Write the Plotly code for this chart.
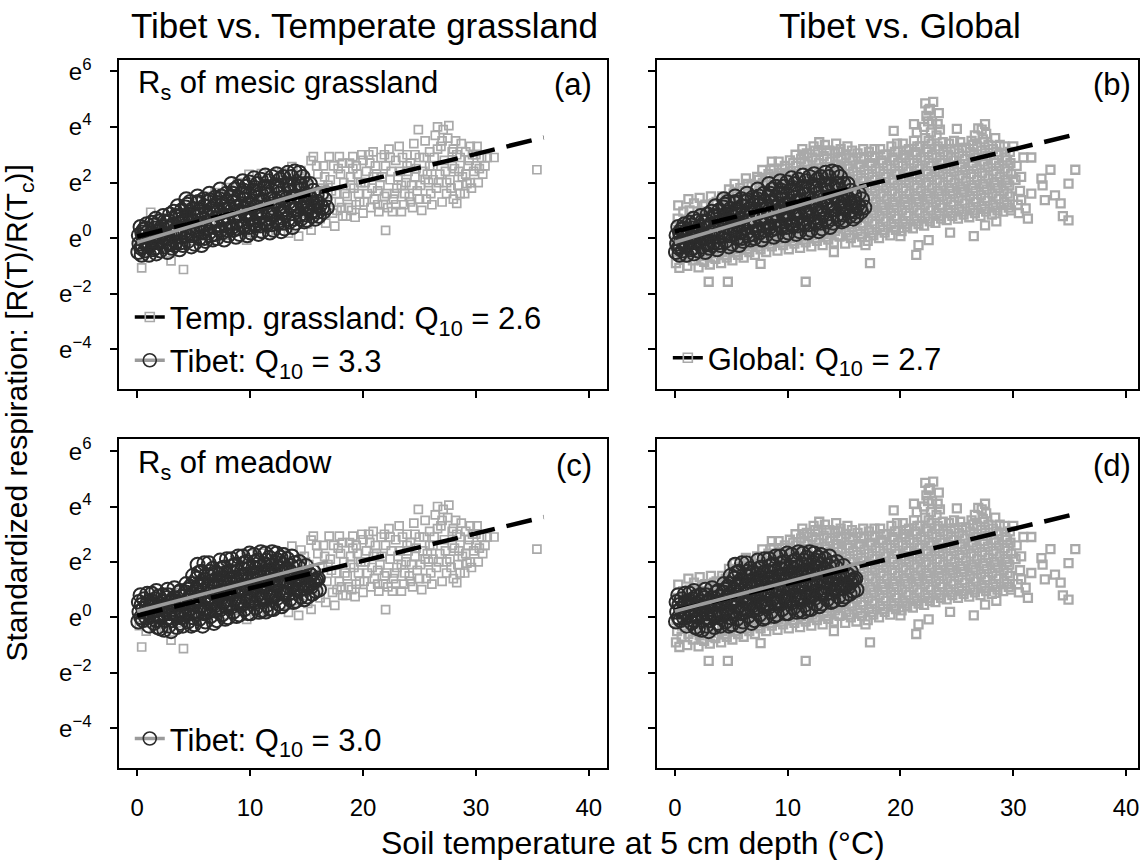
import plotly.graph_objects as go

# ---------------- data ----------------
x_ticks = [0, 10, 20, 30, 40]
x_tick_text = ["0", "10", "20", "30", "40"]
y_ticks = [-4, -2, 0, 2, 4, 6]
y_tick_text = ["e<sup>\u22124</sup>", "e<sup>\u22122</sup>", "e<sup>0</sup>",
               "e<sup>2</sup>", "e<sup>4</sup>", "e<sup>6</sup>"]

temp_grass_pts = [
 (0.4,-1.07),(3.0,-0.82),(4.1,-1.13),
 (0.2,-0.3),(0.5,0.2),(0.8,-0.5),(1.2,0.93),(1.0,0.4),(1.5,-0.1),(2.1,0.71),(1.8,0.3),(2.4,-0.35),
 (2.8,0.1),(3.2,0.55),(3.5,-0.2),(3.8,0.9),(4.3,0.3),(4.6,1.1),(4.9,-0.1),(5.2,0.6),
 (5.5,1.3),(5.8,0.1),(6.1,0.85),(6.4,1.5),(6.6,0.3),(6.9,1.64),(7.2,0.6),(7.5,1.2),(7.9,1.82),(7.7,0.1),(8.2,0.9),(8.5,0.25),(8.7,1.5),
 (8.9,2.0),(9.2,0.6),(9.5,1.2),(9.7,-0.07),(9.9,2.29),(10.1,0.4),(10.4,1.7),(10.6,0.9),(10.8,0.18),(11.0,2.32),(11.2,1.3),(11.5,0.5),
 (11.8,1.9),(12.0,0.8),(12.3,0.29),(12.5,1.5),(12.8,2.36),(13.0,1.1),(13.4,0.18),(13.6,1.8),(13.7,2.57),(13.9,0.6),(14.3,0.07),(14.4,1.3),(14.5,2.43),(14.7,0.9),(14.9,2.0),
 (15.1,0.5),(15.4,0.29),(15.4,2.79),(15.6,2.93),(15.5,1.5),(15.8,1.0),(16.0,2.3),(16.2,0.7),(16.5,2.6),(16.4,1.8),(16.7,0.54),(16.8,1.3),(17.0,2.93),(17.1,2.1),(17.3,0.9),(17.5,0.43),(17.6,1.6),(17.8,2.5),
 (17.9,2.93),(18.1,1.1),(18.2,0.79),(18.3,2.0),(18.5,0.79),(18.6,1.5),(18.8,2.7),(19.0,1.0),(19.1,2.93),(19.3,0.75),(19.2,1.8),(19.5,2.3),(19.7,1.3),(19.9,3.0),(20.0,0.9),(20.2,2.0),(20.4,1.6),(20.6,2.7),(20.7,1.1),
 (20.9,3.1),(21.0,1.4),(21.2,2.3),(21.4,0.95),(21.5,1.9),(21.6,2.9),(21.8,1.2),(22.0,0.28),(22.0,2.6),(22.1,1.6),(22.3,3.2),(22.4,2.1),(22.6,0.95),(22.7,1.4),(22.9,2.8),(23.0,1.8),(23.2,3.3),(23.4,0.95),(23.3,2.4),(23.6,1.2),
 (23.8,2.0),(23.9,3.0),(24.1,1.5),(24.2,2.7),(24.4,1.1),(24.5,3.4),(24.6,2.2),(24.9,3.9),(24.8,1.7),(25.0,2.9),(25.2,1.0),(25.3,2.4),(25.5,3.5),(25.6,1.4),(25.8,2.0),(25.9,3.1),(26.1,1.2),(26.2,2.6),(26.4,3.7),(26.5,1.8),(26.6,4.0),
 (26.8,2.3),(26.9,3.3),(27.0,1.3),(27.1,3.9),(27.2,2.8),(27.4,1.6),(27.5,3.6),(27.6,4.05),(27.7,2.1),(27.9,3.1),(28.0,1.4),(28.1,2.5),(28.3,1.25),(28.2,3.5),(28.4,1.9),(28.6,2.9),
 (28.7,3.4),(28.8,2.2),(29.0,1.6),(29.1,3.1),(29.2,1.96),(29.3,2.6),(29.5,3.3),(29.6,1.8),(29.8,2.4),(30.0,2.6),(30.1,3.3),(30.2,2.0),(30.5,2.9),(30.6,2.3),(31.0,2.9),(31.6,2.9),(35.4,2.46),
 (14.2,1.7),(14.8,2.2),(15.2,1.9),(15.9,2.6),(16.1,1.4),(16.6,2.2),(17.2,1.7),(17.4,2.6),(17.9,1.3),(18.0,2.3),(18.4,1.6),(18.9,2.2),(19.4,2.6),(19.6,1.6),(19.8,2.0),(20.1,1.3),(20.3,2.4),(20.5,3.0),(20.8,1.8),(21.1,2.6),(21.3,1.7),(21.7,2.2),(21.9,3.0),(22.2,1.1),(22.5,2.4),(22.8,1.6),(23.1,2.2),(23.5,2.9),(23.7,1.6),(24.0,2.4),(24.3,1.9),(24.7,2.5),(25.1,1.9),(25.4,2.9),(25.7,2.3),(26.0,1.6),(26.3,2.9),(26.7,2.0),(27.3,2.4),(27.8,1.8),(28.0,3.2),(28.5,2.4),(29.4,2.8),(29.7,3.0),(30.3,2.5),(30.8,2.6),
 (17.7,1.0),(18.7,1.1),(18.9,1.9),(19.4,1.2),(20.0,2.8),(20.9,2.2),(21.3,1.2),(21.9,1.5),(22.4,2.9),(22.9,1.2),(23.4,1.9),(23.9,2.6),(24.2,1.3),(24.6,3.0),(25.0,1.4),(25.5,2.1),(25.9,2.6),(26.2,2.1),(26.6,3.2),(27.0,3.5),(27.4,2.0),(27.9,2.6),(28.3,3.0),(28.6,1.6),(29.1,2.3),(29.5,2.0),(30.0,3.0),(16.9,1.9),(18.2,2.7),(19.1,2.5),
]

global_pts = [
 (0.1,-0.9),(0.2,-0.5),(0.15,-0.1),(0.3,0.3),(0.25,0.7),(0.3,1.18),(0.4,-1.07),(0.6,-0.7),(0.65,-0.3),(0.7,0.1),(0.8,0.5),(0.75,0.95),
 (1.1,-1.0),(1.2,-0.6),(1.15,-0.2),(1.3,0.2),(1.25,0.6),(1.3,1.0),(1.2,1.4),(1.6,-0.8),(1.7,-0.4),(1.65,0.0),(1.8,0.4),(1.75,0.8),(1.7,1.25),
 (2.1,-1.05),(2.2,-0.65),(2.15,-0.25),(2.3,0.15),(2.25,0.55),(2.3,0.95),(2.2,1.45),(2.6,-0.85),(2.7,-0.45),(2.65,-0.05),(2.8,0.35),(2.75,0.75),(2.7,1.2),
 (3.0,-1.57),(3.1,-0.95),(3.2,-0.55),(3.15,-0.15),(3.3,0.25),(3.25,0.65),(3.3,1.05),(3.2,1.5),(3.6,-0.75),(3.7,-0.35),(3.65,0.05),(3.8,0.45),(3.75,0.85),(3.7,1.3),
 (4.1,-0.9),(4.2,-0.5),(4.15,-0.1),(4.3,0.3),(4.25,0.7),(4.3,1.1),(4.2,1.5),(4.7,-1.57),(4.6,-0.7),(4.7,-0.3),(4.65,0.1),(4.8,0.5),(4.75,0.9),(4.7,1.3),(4.8,1.75),
 (5.1,-0.8),(5.2,-0.4),(5.15,0.0),(5.3,0.4),(5.25,0.8),(5.3,1.2),(5.2,1.6),(5.3,1.95),(5.6,-0.6),(5.7,-0.2),(5.65,0.2),(5.8,0.6),(5.75,1.0),(5.7,1.4),(5.8,1.8),
 (6.1,-0.7),(6.2,-0.3),(6.15,0.1),(6.3,0.5),(6.25,0.9),(6.3,1.3),(6.2,1.7),(6.3,2.15),(6.6,-0.5),(6.7,-0.1),(6.65,0.3),(6.8,0.7),(6.75,1.1),(6.7,1.5),(6.8,1.9),
 (7.1,-0.6),(7.2,-0.2),(7.15,0.2),(7.3,0.6),(7.25,1.0),(7.3,1.4),(7.2,1.8),(7.3,2.2),(7.6,-0.93),(7.6,-0.4),(7.7,0.0),(7.65,0.4),(7.8,0.8),(7.75,1.2),(7.7,1.6),(7.8,2.0),(7.75,2.45),
 (8.1,-0.5),(8.2,-0.1),(8.15,0.3),(8.3,0.7),(8.25,1.1),(8.3,1.5),(8.2,1.9),(8.3,2.3),(8.6,2.75),(8.6,-0.3),(8.7,0.1),(8.65,0.5),(8.8,0.9),(8.75,1.3),(8.7,1.7),(8.8,2.1),(8.75,2.5),
 (9.1,-0.45),(9.2,-0.05),(9.15,0.35),(9.3,0.75),(9.25,1.15),(9.3,1.55),(9.2,1.95),(9.3,2.35),(9.2,2.75),(9.6,-0.25),(9.7,0.15),(9.65,0.55),(9.8,0.95),(9.75,1.35),(9.7,1.75),(9.8,2.15),(9.75,2.6),
 (10.1,-0.4),(10.2,0.0),(10.15,0.4),(10.3,0.8),(10.25,1.2),(10.3,1.6),(10.2,2.0),(10.3,2.4),(10.2,2.8),(10.6,-0.2),(10.7,0.2),(10.65,0.6),(10.8,1.0),(10.75,1.4),(10.7,1.8),(10.8,2.2),(10.75,2.6),(10.7,3.0),
 (11.1,-0.35),(11.2,0.05),(11.15,0.45),(11.3,0.85),(11.25,1.25),(11.3,1.65),(11.2,2.05),(11.3,2.45),(11.2,2.85),(11.3,3.2),(11.6,-1.57),(11.6,-0.15),(11.7,0.25),(11.65,0.65),(11.8,1.05),(11.75,1.45),(11.7,1.85),(11.8,2.25),(11.75,2.65),(11.7,3.05),
 (12.1,-0.3),(12.2,0.1),(12.15,0.5),(12.3,0.9),(12.25,1.3),(12.3,1.7),(12.2,2.1),(12.3,2.5),(12.2,2.9),(12.3,3.3),(12.6,-0.1),(12.7,0.3),(12.65,0.7),(12.8,1.1),(12.75,1.5),(12.7,1.9),(12.8,2.3),(12.75,2.7),(12.7,3.1),(12.8,3.45),
 (13.1,-0.25),(13.2,0.15),(13.15,0.55),(13.3,0.95),(13.25,1.35),(13.3,1.75),(13.2,2.15),(13.3,2.55),(13.2,2.95),(13.3,3.35),(13.6,-0.05),(13.7,0.35),(13.65,0.75),(13.8,1.15),(13.75,1.55),(13.7,1.95),(13.8,2.35),(13.75,2.75),(13.7,3.15),
 (14.1,-0.5),(14.1,-0.15),(14.2,0.25),(14.15,0.65),(14.3,1.05),(14.25,1.45),(14.3,1.85),(14.2,2.25),(14.3,2.65),(14.2,3.05),(14.3,3.4),(14.6,0.05),(14.7,0.45),(14.65,0.85),(14.8,1.25),(14.75,1.65),(14.7,2.05),(14.8,2.45),(14.75,2.85),(14.7,3.2),
 (15.1,-0.2),(15.2,0.2),(15.15,0.6),(15.3,1.0),(15.25,1.4),(15.3,1.8),(15.2,2.2),(15.3,2.6),(15.2,3.0),(15.3,3.3),(15.6,0.0),(15.7,0.4),(15.65,0.8),(15.8,1.2),(15.75,1.6),(15.7,2.0),(15.8,2.4),(15.75,2.8),(15.7,3.15),
 (16.1,-0.15),(16.2,0.25),(16.15,0.65),(16.3,1.05),(16.25,1.45),(16.3,1.85),(16.2,2.25),(16.3,2.65),(16.2,3.05),(16.6,0.05),(16.7,0.45),(16.65,0.85),(16.8,1.25),(16.75,1.65),(16.7,2.05),(16.8,2.45),(16.75,2.85),(16.7,3.2),(16.9,-0.25),
 (17.1,-0.1),(17.3,-0.9),(17.2,0.3),(17.15,0.7),(17.3,1.1),(17.25,1.5),(17.3,1.9),(17.2,2.3),(17.3,2.7),(17.2,3.1),(17.6,0.1),(17.7,0.5),(17.65,0.9),(17.8,1.3),(17.75,1.7),(17.7,2.1),(17.8,2.5),(17.75,2.9),(17.7,3.2),
 (18.1,0.0),(18.2,0.4),(18.15,0.8),(18.3,1.2),(18.25,1.6),(18.3,2.0),(18.2,2.4),(18.3,2.8),(18.2,3.2),(18.6,0.2),(18.7,0.6),(18.65,1.0),(18.8,1.4),(18.75,1.8),(18.7,2.2),(18.8,2.6),(18.75,3.0),
 (19.1,0.1),(19.2,0.5),(19.15,0.9),(19.3,1.3),(19.25,1.7),(19.3,2.1),(19.2,2.5),(19.3,2.9),(19.2,3.3),(19.4,3.86),(19.6,0.3),(19.7,0.7),(19.65,1.1),(19.8,1.5),(19.75,1.9),(19.7,2.3),(19.8,2.7),(19.75,3.1),(19.7,3.4),
 (20.0,0.07),(20.1,0.25),(20.2,0.6),(20.15,1.0),(20.3,1.4),(20.25,1.8),(20.3,2.2),(20.2,2.6),(20.3,3.0),(20.2,3.4),(20.6,0.4),(20.7,0.8),(20.65,1.2),(20.8,1.6),(20.75,2.0),(20.7,2.4),(20.8,2.8),(20.75,3.2),
 (21.1,0.35),(21.2,0.7),(21.15,1.1),(21.3,1.5),(21.25,1.9),(21.3,2.3),(21.2,2.7),(21.3,3.1),(21.2,3.5),(21.2,4.1),(21.4,-0.6),(21.6,-0.25),(21.6,0.5),(21.7,0.9),(21.65,1.3),(21.8,1.7),(21.75,2.1),(21.7,2.5),(21.8,2.9),(21.75,3.3),
 (22.1,0.45),(22.2,0.8),(22.15,1.2),(22.3,1.6),(22.25,2.0),(22.3,2.4),(22.2,2.8),(22.3,3.2),(22.2,3.6),(22.1,4.0),(22.3,4.4),(22.2,4.85),(22.5,-0.07),(22.6,0.6),(22.7,1.0),(22.65,1.4),(22.8,1.8),(22.75,2.2),(22.7,2.6),(22.8,3.0),(22.75,3.4),(22.7,3.8),(22.8,4.2),(22.6,4.65),(22.9,4.9),
 (23.1,0.55),(23.2,0.9),(23.15,1.3),(23.3,1.7),(23.25,2.1),(23.3,2.5),(23.2,2.9),(23.3,3.3),(23.2,3.7),(23.3,4.1),(23.4,4.5),(23.6,0.7),(23.7,1.1),(23.65,1.5),(23.8,1.9),(23.75,2.3),(23.7,2.7),(23.8,3.1),(23.75,3.45),
 (24.1,0.65),(24.4,0.2),(24.2,1.0),(24.15,1.4),(24.3,1.8),(24.25,2.2),(24.3,2.6),(24.2,3.0),(24.3,3.4),(24.6,0.8),(24.7,1.2),(24.65,1.6),(24.8,2.0),(24.75,2.4),(24.7,2.8),(24.8,3.2),(24.75,3.5),
 (25.1,0.7),(25.2,1.05),(25.15,1.45),(25.3,1.85),(25.25,2.25),(25.3,2.65),(25.2,3.05),(25.3,3.45),(25.0,3.93),(25.6,0.85),(25.7,1.25),(25.65,1.65),(25.8,2.05),(25.75,2.45),(25.7,2.85),(25.8,3.25),
 (26.1,0.75),(26.2,1.1),(26.15,1.5),(26.3,1.9),(26.25,2.3),(26.3,2.7),(26.2,3.1),(26.3,3.5),(26.5,0.07),(26.6,0.9),(26.7,1.3),(26.65,1.7),(26.8,2.1),(26.75,2.5),(26.7,2.9),(26.8,3.3),(26.6,3.7),(26.9,3.95),
 (27.1,0.8),(27.2,1.15),(27.15,1.55),(27.3,1.95),(27.25,2.35),(27.3,2.75),(27.2,3.15),(27.3,3.55),(27.2,3.9),(27.5,0.46),(27.6,0.95),(27.7,1.35),(27.65,1.75),(27.8,2.15),(27.75,2.55),(27.7,2.95),(27.8,3.35),(27.6,3.75),(27.5,4.1),
 (28.1,0.85),(28.5,0.6),(28.2,1.2),(28.15,1.6),(28.3,2.0),(28.25,2.4),(28.3,2.8),(28.2,3.2),(28.4,3.6),(28.6,1.0),(28.7,1.4),(28.65,1.8),(28.8,2.2),(28.75,2.6),(28.7,3.0),(28.8,3.35),
 (29.1,0.95),(29.2,1.3),(29.15,1.7),(29.3,2.1),(29.25,2.5),(29.3,2.9),(29.2,3.3),(29.6,1.1),(29.8,1.0),(29.7,1.5),(29.65,1.9),(29.8,2.3),(29.75,2.7),(29.7,3.1),
 (30.0,3.3),(30.2,2.1),(30.4,1.2),(30.6,1.7),(30.7,1.37),(30.7,2.2),(30.9,2.9),(31.1,1.07),(31.3,0.7),(31.6,1.6),(31.6,2.9),(30.3,2.6),(30.5,0.9),
 (32.5,2.14),(32.6,1.9),(32.8,1.37),(33.3,2.46),(33.7,1.54),(34.2,1.25),(34.4,0.79),(34.9,0.64),(34.9,1.96),(35.5,2.46),
 # denser core of the global cloud
 (2.45,-0.8),(2.5,-0.4),(2.45,0.0),(2.5,0.4),(2.45,0.8),(2.5,1.15),
 (3.45,-0.7),(3.5,-0.3),(3.45,0.1),(3.5,0.5),(3.45,0.9),(3.5,1.25),
 (4.45,-0.6),(4.5,-0.2),(4.45,0.2),(4.5,0.6),(4.45,1.0),(4.5,1.4),
 (5.45,-0.5),(5.5,-0.1),(5.45,0.3),(5.5,0.7),(5.45,1.1),(5.5,1.5),
 (6.45,-0.4),(6.5,0.0),(6.45,0.4),(6.5,0.8),(6.45,1.2),(6.5,1.6),(6.45,1.95),
 (7.45,-0.3),(7.5,0.1),(7.45,0.5),(7.5,0.9),(7.45,1.3),(7.5,1.7),(7.45,2.1),
 (8.45,-0.2),(8.5,0.2),(8.45,0.6),(8.5,1.0),(8.45,1.4),(8.5,1.8),(8.45,2.2),(8.5,2.45),
 (9.45,-0.15),(9.5,0.25),(9.45,0.65),(9.5,1.05),(9.45,1.45),(9.5,1.85),(9.45,2.25),(9.5,2.5),
 (10.45,-0.1),(10.5,0.3),(10.45,0.7),(10.5,1.1),(10.45,1.5),(10.5,1.9),(10.45,2.3),(10.5,2.7),
 (11.45,-0.05),(11.5,0.35),(11.45,0.75),(11.5,1.15),(11.45,1.55),(11.5,1.95),(11.45,2.35),(11.5,2.75),(11.45,3.0),
 (12.45,0.0),(12.5,0.4),(12.45,0.8),(12.5,1.2),(12.45,1.6),(12.5,2.0),(12.45,2.4),(12.5,2.8),(12.45,3.15),
 (13.45,0.05),(13.5,0.45),(13.45,0.85),(13.5,1.25),(13.45,1.65),(13.5,2.05),(13.45,2.45),(13.5,2.85),(13.45,3.15),
 (14.45,0.1),(14.5,0.5),(14.45,0.9),(14.5,1.3),(14.45,1.7),(14.5,2.1),(14.45,2.5),(14.5,2.9),(14.45,3.1),
 (15.45,0.1),(15.5,0.5),(15.45,0.9),(15.5,1.3),(15.45,1.7),(15.5,2.1),(15.45,2.5),(15.5,2.9),
 (16.45,0.15),(16.5,0.55),(16.45,0.95),(16.5,1.35),(16.45,1.75),(16.5,2.15),(16.45,2.55),(16.5,2.9),
 (17.45,0.2),(17.5,0.6),(17.45,1.0),(17.5,1.4),(17.45,1.8),(17.5,2.2),(17.45,2.6),(17.5,2.95),
 (18.45,0.3),(18.5,0.7),(18.45,1.1),(18.5,1.5),(18.45,1.9),(18.5,2.3),(18.45,2.7),(18.5,3.0),
 (19.45,0.4),(19.5,0.8),(19.45,1.2),(19.5,1.6),(19.45,2.0),(19.5,2.4),(19.45,2.8),(19.5,3.1),
 (20.45,0.5),(20.5,0.9),(20.45,1.3),(20.5,1.7),(20.45,2.1),(20.5,2.5),(20.45,2.9),(20.5,3.15),
 (21.45,0.6),(21.5,1.0),(21.45,1.4),(21.5,1.8),(21.45,2.2),(21.5,2.6),(21.45,3.0),(21.5,3.3),(21.45,3.8),
 (22.45,0.7),(22.5,1.1),(22.45,1.5),(22.5,1.9),(22.45,2.3),(22.5,2.7),(22.45,3.1),(22.5,3.5),(22.45,4.2),(22.5,4.6),
 (23.45,0.8),(23.5,1.2),(23.45,1.6),(23.5,2.0),(23.45,2.4),(23.5,2.8),(23.45,3.2),(23.5,3.9),
 (24.45,0.9),(24.5,1.3),(24.45,1.7),(24.5,2.1),(24.45,2.5),(24.5,2.9),(24.45,3.2),
 (25.45,0.95),(25.5,1.35),(25.45,1.75),(25.5,2.15),(25.45,2.55),(25.5,2.95),(25.45,3.25),
 (26.45,1.0),(26.5,1.4),(26.45,1.8),(26.5,2.2),(26.45,2.6),(26.5,3.0),(26.45,3.35),
 (27.45,1.05),(27.5,1.45),(27.45,1.85),(27.5,2.25),(27.45,2.65),(27.5,3.05),(27.45,3.45),
 (28.45,1.1),(28.5,1.5),(28.45,1.9),(28.5,2.3),(28.45,2.7),(28.5,3.1),
 (29.45,1.2),(29.5,1.6),(29.45,2.0),(29.5,2.4),(29.45,2.8),
]

tibet_mesic_pts = [
 (0.1,-0.5),(0.2,-0.2),(0.15,0.1),(0.3,0.4),(0.4,-0.6),(0.5,-0.3),(0.55,0.05),(0.6,0.3),(0.7,-0.45),(0.8,-0.1),(0.85,0.5),(0.9,0.2),
 (1.05,-0.6),(1.1,-0.25),(1.2,0.15),(1.3,0.55),(1.4,-0.4),(1.5,0.0),(1.55,0.35),(1.65,0.7),(1.7,-0.55),(1.8,-0.15),(1.9,0.25),(1.95,0.6),
 (2.05,-0.45),(2.1,-0.05),(2.2,0.4),(2.3,0.8),(2.4,-0.3),(2.5,0.15),(2.6,0.55),(2.7,-0.5),(2.75,0.0),(2.85,0.35),(2.9,0.85),(2.95,-0.2),
 (3.05,-0.35),(3.1,0.1),(3.2,0.5),(3.25,0.95),(3.4,-0.15),(3.5,0.3),(3.55,0.75),(3.6,1.15),(3.75,-0.4),(3.8,0.05),(3.9,0.55),(3.95,1.0),
 (4.05,-0.25),(4.1,0.2),(4.2,0.65),(4.3,1.1),(4.35,1.4),(4.5,-0.1),(4.55,0.4),(4.6,0.85),(4.7,1.3),(4.8,-0.3),(4.85,0.1),(4.9,0.6),(4.95,1.05),
 (5.05,-0.2),(5.1,0.3),(5.2,0.75),(5.3,1.25),(5.35,1.5),(5.5,0.0),(5.55,0.5),(5.6,1.0),(5.7,-0.25),(5.8,0.2),(5.85,0.7),(5.9,1.4),(5.95,1.15),
 (6.05,-0.1),(6.1,0.35),(6.2,0.8),(6.3,1.3),(6.4,1.6),(6.5,0.1),(6.55,0.6),(6.6,1.05),(6.7,-0.05),(6.8,0.4),(6.85,0.9),(6.9,1.45),
 (7.05,0.0),(7.1,0.45),(7.2,0.95),(7.3,1.4),(7.35,1.75),(7.5,0.2),(7.55,0.7),(7.6,1.2),(7.7,-0.05),(7.8,0.5),(7.85,1.0),(7.9,1.6),
 (8.05,0.1),(8.1,0.55),(8.2,1.05),(8.3,1.5),(8.35,1.95),(8.5,0.3),(8.55,0.8),(8.6,1.3),(8.65,1.75),(8.75,0.05),(8.8,0.6),(8.85,1.1),(8.95,1.85),
 (9.05,0.15),(9.1,0.65),(9.2,1.15),(9.3,1.6),(9.35,2.05),(9.5,0.4),(9.55,0.9),(9.6,1.4),(9.65,1.85),(9.75,0.1),(9.8,0.7),(9.85,1.2),(9.95,2.0),
 (10.05,0.2),(10.1,0.7),(10.2,1.2),(10.3,1.7),(10.35,2.15),(10.5,0.45),(10.55,0.95),(10.6,1.45),(10.65,1.95),(10.75,0.15),(10.8,0.75),(10.85,1.3),(10.95,2.1),
 (11.05,0.25),(11.1,0.8),(11.2,1.3),(11.3,1.8),(11.35,2.25),(11.5,0.5),(11.55,1.0),(11.6,1.55),(11.65,2.05),(11.75,0.2),(11.8,0.85),(11.85,1.4),(11.95,2.2),
 (12.05,0.3),(12.1,0.85),(12.2,1.35),(12.3,1.85),(12.35,2.3),(12.5,0.55),(12.55,1.1),(12.6,1.6),(12.65,2.1),(12.75,0.25),(12.8,0.9),(12.85,1.45),(12.95,2.2),
 (13.05,0.35),(13.1,0.9),(13.2,1.4),(13.3,1.9),(13.35,2.35),(13.5,0.6),(13.55,1.15),(13.6,1.65),(13.65,2.2),(13.75,0.4),(13.8,1.0),(13.85,1.5),(13.95,2.4),
 (14.05,0.55),(14.1,1.05),(14.2,1.5),(14.3,1.95),(14.35,2.35),(14.5,0.7),(14.55,1.25),(14.6,1.75),(14.65,2.2),(14.8,0.6),(14.85,1.1),(14.9,1.6),
 (15.05,0.65),(15.1,1.1),(15.2,1.5),(15.3,1.95),(15.5,0.8),(15.55,1.25),(15.6,1.7),(15.8,0.7),(15.85,1.15),(15.9,1.55),
 (16.1,0.8),(16.2,1.2),(16.3,1.6),(16.5,0.95),(16.6,1.4),(16.8,1.1),
 # denser interior
 (0.35,-0.35),(0.45,0.2),(0.95,-0.3),(0.75,0.35),
 (1.35,-0.1),(1.45,0.45),(1.85,0.1),(1.6,-0.35),
 (2.35,0.05),(2.45,0.6),(2.8,-0.2),(2.85,0.6),
 (3.35,0.2),(3.45,0.8),(3.85,-0.15),(3.85,0.8),(3.3,-0.25),
 (4.4,0.1),(4.4,0.75),(4.45,1.2),(4.9,0.35),(4.95,0.85),
 (5.4,0.25),(5.45,0.85),(5.4,1.3),(5.95,0.0),(5.9,0.5),
 (6.35,0.2),(6.4,0.9),(6.45,1.35),(6.95,0.15),(6.95,0.7),(6.95,1.2),
 (7.4,0.3),(7.4,0.9),(7.45,1.5),(7.95,0.3),(7.95,0.8),(7.95,1.3),
 (8.4,0.4),(8.4,1.0),(8.45,1.6),(8.9,0.35),(8.95,0.9),(8.95,1.45),
 (9.4,0.45),(9.4,1.05),(9.45,1.7),(9.9,0.4),(9.95,0.95),(9.95,1.55),
 (10.4,0.5),(10.4,1.1),(10.45,1.8),(10.9,0.45),(10.95,1.0),(10.95,1.6),
 (11.4,0.55),(11.4,1.15),(11.45,1.85),(11.9,0.5),(11.95,1.1),(11.95,1.7),
 (12.4,0.6),(12.4,1.2),(12.45,1.9),(12.9,0.55),(12.95,1.15),(12.95,1.75),
 (13.4,0.7),(13.4,1.3),(13.45,1.95),(13.9,0.7),(13.95,1.25),(13.95,1.9),
 (14.4,0.85),(14.4,1.4),(14.45,1.95),(14.95,0.85),(14.95,1.35),(14.95,1.95),
 (15.4,0.95),(15.4,1.4),(15.7,1.0),(15.95,1.3),(16.4,1.1),(16.0,0.95),
]

tibet_meadow_pts = [
 (0.1,-0.15),(0.2,0.2),(0.15,0.55),(0.3,0.8),(0.5,-0.1),(0.55,0.3),(0.6,0.65),(0.8,0.0),(0.85,0.45),(0.9,0.85),
 (1.05,-0.3),(1.1,0.1),(1.2,0.45),(1.3,0.85),(1.5,-0.2),(1.55,0.25),(1.6,0.65),(1.7,0.95),(1.8,-0.35),(1.85,0.05),(1.95,0.5),
 (2.05,-0.4),(2.1,0.0),(2.2,0.4),(2.3,0.8),(2.4,-0.45),(2.5,-0.1),(2.55,0.3),(2.6,0.7),(2.7,1.0),(2.8,-0.3),(2.85,0.15),(2.95,0.55),
 (3.0,-0.5),(3.1,-0.1),(3.2,0.3),(3.25,0.7),(3.3,1.05),(3.5,-0.35),(3.55,0.05),(3.6,0.5),(3.7,0.9),(3.8,-0.2),(3.9,0.25),(3.95,0.75),
 (4.05,-0.3),(4.1,0.1),(4.2,0.5),(4.3,0.9),(4.35,1.2),(4.5,-0.15),(4.55,0.3),(4.6,0.7),(4.7,1.1),(4.8,-0.3),(4.85,0.15),(4.9,0.55),(4.95,1.5),
 (5.05,-0.25),(5.1,0.2),(5.2,0.6),(5.25,1.0),(5.3,1.4),(5.35,1.9),(5.5,-0.05),(5.55,0.4),(5.6,0.8),(5.65,1.2),(5.7,1.65),(5.8,-0.3),(5.85,0.15),(5.9,0.95),(5.95,1.95),
 (6.05,-0.15),(6.1,0.3),(6.2,0.7),(6.25,1.1),(6.3,1.5),(6.35,1.95),(6.5,0.05),(6.55,0.5),(6.6,0.9),(6.65,1.3),(6.7,1.75),(6.8,-0.2),(6.85,0.25),(6.9,1.05),(6.95,1.6),
 (7.05,-0.1),(7.1,0.35),(7.2,0.75),(7.25,1.15),(7.3,1.55),(7.35,2.05),(7.5,0.1),(7.55,0.55),(7.6,0.95),(7.65,1.4),(7.7,1.8),(7.8,-0.05),(7.85,0.4),(7.9,1.2),(7.95,2.1),
 (8.05,0.0),(8.1,0.45),(8.2,0.85),(8.25,1.25),(8.3,1.65),(8.35,2.1),(8.5,0.2),(8.55,0.65),(8.6,1.05),(8.65,1.45),(8.7,1.9),(8.8,0.05),(8.85,0.5),(8.9,1.3),(8.95,2.2),
 (9.05,0.1),(9.1,0.55),(9.2,0.95),(9.25,1.35),(9.3,1.75),(9.35,2.2),(9.5,0.3),(9.55,0.75),(9.6,1.15),(9.65,1.55),(9.7,2.0),(9.8,0.15),(9.85,0.6),(9.9,1.4),(9.95,2.3),
 (10.05,0.15),(10.1,0.6),(10.2,1.0),(10.25,1.4),(10.3,1.8),(10.35,2.25),(10.5,0.35),(10.55,0.8),(10.6,1.2),(10.65,1.6),(10.7,2.05),(10.8,0.2),(10.85,0.65),(10.9,1.45),(10.95,2.35),
 (11.05,0.25),(11.1,0.7),(11.2,1.1),(11.25,1.5),(11.3,1.9),(11.35,2.3),(11.4,0.21),(11.5,0.45),(11.55,0.9),(11.6,1.3),(11.65,1.7),(11.7,2.15),(11.8,0.3),(11.85,0.75),(11.9,1.55),(11.95,2.35),
 (12.05,0.3),(12.1,0.75),(12.2,1.15),(12.25,1.55),(12.3,1.95),(12.35,2.3),(12.5,0.5),(12.55,0.95),(12.6,1.35),(12.65,1.75),(12.7,2.15),(12.8,0.4),(12.85,0.85),(12.9,1.6),(12.95,2.25),
 (13.05,0.5),(13.1,0.9),(13.2,1.3),(13.25,1.7),(13.3,2.1),(13.5,0.65),(13.55,1.05),(13.6,1.45),(13.65,1.85),(13.7,2.2),(13.85,0.55),(13.9,1.2),(13.95,1.95),
 (14.05,0.6),(14.1,1.0),(14.2,1.4),(14.3,1.8),(14.35,2.0),(14.5,0.75),(14.55,1.15),(14.6,1.55),(14.8,0.65),(14.85,1.05),(14.9,1.45),(14.95,1.85),
 (15.1,0.75),(15.2,1.15),(15.3,1.55),(15.5,0.85),(15.55,1.25),(15.6,1.65),(15.8,0.95),(15.85,1.35),
 (16.0,1.4),(16.1,1.0),
 # denser interior
 (0.35,0.0),(0.4,0.45),(0.7,0.2),(0.95,0.55),
 (1.35,0.05),(1.4,0.55),(1.8,0.3),(1.9,0.75),(1.65,-0.1),
 (2.35,0.15),(2.45,0.55),(2.9,0.0),(2.9,0.4),(2.75,0.8),
 (3.4,0.1),(3.45,0.55),(3.9,0.0),(3.9,0.5),(3.85,0.95),
 (4.4,0.1),(4.45,0.6),(4.45,1.0),(4.95,0.0),(4.9,0.85),(4.9,1.2),
 (5.4,0.2),(5.45,0.65),(5.45,1.1),(5.45,1.6),(5.95,0.35),(5.95,0.7),(5.9,1.35),
 (6.4,0.25),(6.45,0.7),(6.45,1.15),(6.45,1.65),(6.95,0.45),(6.95,0.85),(6.95,1.35),
 (7.4,0.3),(7.45,0.8),(7.45,1.25),(7.45,1.75),(7.95,0.5),(7.95,0.95),(7.95,1.55),
 (8.4,0.4),(8.45,0.9),(8.45,1.35),(8.45,1.85),(8.95,0.6),(8.95,1.05),(8.95,1.65),
 (9.4,0.5),(9.45,1.0),(9.45,1.45),(9.45,1.95),(9.95,0.7),(9.95,1.15),(9.95,1.75),
 (10.4,0.55),(10.45,1.05),(10.45,1.5),(10.45,2.0),(10.95,0.75),(10.95,1.2),(10.95,1.8),
 (11.4,0.65),(11.45,1.15),(11.45,1.6),(11.45,2.05),(11.95,0.85),(11.95,1.3),(11.95,1.85),
 (12.4,0.7),(12.45,1.2),(12.45,1.65),(12.45,2.05),(12.95,0.9),(12.95,1.35),(12.95,1.9),
 (13.4,0.85),(13.45,1.25),(13.45,1.7),(13.95,0.9),(13.95,1.4),
 (14.4,1.0),(14.45,1.45),(14.7,1.2),(14.95,1.15),(15.4,1.1),(15.4,1.5),(15.7,1.3),
]

# fitted regression lines (end points)
temp_fit_x = [0, 36]
temp_fit_y = [0.06, 3.62]
global_fit_x = [0, 36]
global_fit_y = [0.24, 3.78]
mesic_fit_x = [0, 17]
mesic_fit_y = [-0.15, 1.9]
meadow_fit_x = [0, 16.9]
meadow_fit_y = [0.22, 2.02]

legend_temp = "Temp. grassland: Q<sub>10</sub> = 2.6"
legend_mesic = "Tibet: Q<sub>10</sub> = 3.3"
legend_global = "Global: Q<sub>10</sub> = 2.7"
legend_meadow = "Tibet: Q<sub>10</sub> = 3.0"

# ---------------- styling ----------------
FONT = "Liberation Sans, Arial, Helvetica, sans-serif"
SQ_COLOR = "#a9a9a9"
CIR_COLOR = "#2b2b2b"
TIB_LINE = "#9b9b9b"
W, H = 1140, 860

def xy(pts):
    return [p[0] for p in pts], [p[1] for p in pts]

fig = go.Figure()

def add_panel(k, sq_pts, sq_w, cir_pts, dash_x, dash_y, tib_x, tib_y):
    xa = "x" if k == 1 else f"x{k}"
    ya = "y" if k == 1 else f"y{k}"
    sx, sy = xy(sq_pts)
    fig.add_trace(go.Scatter(x=sx, y=sy, mode="markers", xaxis=xa, yaxis=ya, showlegend=False,
                             marker=dict(symbol="square-open", size=8, color=SQ_COLOR,
                                         line=dict(width=sq_w, color=SQ_COLOR))))
    cx, cy = xy(cir_pts)
    fig.add_trace(go.Scatter(x=cx, y=cy, mode="markers", xaxis=xa, yaxis=ya, showlegend=False,
                             marker=dict(symbol="circle-open", size=14, color=CIR_COLOR,
                                         line=dict(width=2.0, color=CIR_COLOR))))
    fig.add_trace(go.Scatter(x=dash_x, y=dash_y, mode="lines", xaxis=xa, yaxis=ya, showlegend=False,
                             line=dict(color="black", width=4.5, dash="26px,12px")))
    fig.add_trace(go.Scatter(x=tib_x, y=tib_y, mode="lines", xaxis=xa, yaxis=ya, showlegend=False,
                             line=dict(color=TIB_LINE, width=3.5)))

add_panel(1, temp_grass_pts, 1.7, tibet_mesic_pts, temp_fit_x, temp_fit_y, mesic_fit_x, mesic_fit_y)
add_panel(2, global_pts, 2.3, tibet_mesic_pts, global_fit_x, global_fit_y, mesic_fit_x, mesic_fit_y)
add_panel(3, temp_grass_pts, 1.7, tibet_meadow_pts, temp_fit_x, temp_fit_y, meadow_fit_x, meadow_fit_y)
add_panel(4, global_pts, 2.3, tibet_meadow_pts, global_fit_x, global_fit_y, meadow_fit_x, meadow_fit_y)

def legend_item(name, legend, line_color, sym, size, mcol):
    fig.add_trace(go.Scatter(x=[None], y=[None], mode="lines+markers", name=name, legend=legend,
                             line=dict(color=line_color, width=3.5),
                             marker=dict(symbol=sym, size=size, color=mcol,
                                         line=dict(width=1.6, color=mcol))))

legend_item(legend_temp, "legend", "black", "square-open", 9, SQ_COLOR)
legend_item(legend_mesic, "legend", TIB_LINE, "circle-open", 13, CIR_COLOR)
legend_item(legend_global, "legend2", "black", "square-open", 9, SQ_COLOR)
legend_item(legend_meadow, "legend3", TIB_LINE, "circle-open", 13, CIR_COLOR)

# panel geometry (paper fractions)
XL = [119.3 / W, 608 / W]
XR = [658.3 / W, 1.0]
YT = [1 - 386 / H, 1 - 55 / H]
YB = [1 - 767 / H, 1 - 437 / H]
XRANGE_L = [-1.6, 41.6]
XRANGE_R = [-1.57, 41.06]
YRANGE = [-5.42, 6.42]

common_x = dict(tickvals=x_ticks, ticktext=x_tick_text, ticks="outside", ticklen=7, tickwidth=1.5,
                tickcolor="black", showline=True, linecolor="black", linewidth=1.5, mirror=True,
                showgrid=False, zeroline=False, tickfont=dict(family=FONT, size=24, color="black"),
                ticklabelstandoff=11)
common_y = dict(tickvals=y_ticks, ticktext=y_tick_text, range=YRANGE, ticks="outside", ticklen=7,
                tickwidth=1.5, tickcolor="black", showline=True, linecolor="black", linewidth=1.5,
                mirror=True, showgrid=False, zeroline=False,
                tickfont=dict(family=FONT, size=24, color="black"), ticklabelstandoff=14)

legend_common = dict(font=dict(family=FONT, size=31, color="black"), bgcolor="rgba(0,0,0,0)",
                     xanchor="left", yanchor="top", tracegroupgap=0, itemwidth=30,
                     itemclick=False, itemdoubleclick=False)

fig.update_layout(
    width=W, height=H, margin=dict(l=0, r=0, t=0, b=0),
    paper_bgcolor="white", plot_bgcolor="white",
    font=dict(family=FONT, color="black"),
    xaxis=dict(domain=XL, anchor="y", range=XRANGE_L, showticklabels=False, **common_x),
    yaxis=dict(domain=YT, anchor="x", showticklabels=True, **common_y),
    xaxis2=dict(domain=XR, anchor="y2", range=XRANGE_R, showticklabels=False, **common_x),
    yaxis2=dict(domain=YT, anchor="x2", showticklabels=False, **common_y),
    xaxis3=dict(domain=XL, anchor="y3", range=XRANGE_L, showticklabels=True, **common_x),
    yaxis3=dict(domain=YB, anchor="x3", showticklabels=True, **common_y),
    xaxis4=dict(domain=XR, anchor="y4", range=XRANGE_R, showticklabels=True, **common_x),
    yaxis4=dict(domain=YB, anchor="x4", showticklabels=False, **common_y),
    legend=dict(x=130 / W, y=1 - 287 / H, **legend_common),
    legend2=dict(x=669 / W, y=1 - 328 / H, **legend_common),
    legend3=dict(x=130 / W, y=1 - 711 / H, **legend_common),
)

def ann(text, x, y, size=31, xanchor="center", yanchor="middle", angle=0):
    fig.add_annotation(text=text, x=x, y=y, xref="paper", yref="paper", showarrow=False,
                       xanchor=xanchor, yanchor=yanchor, textangle=angle,
                       font=dict(family=FONT, size=size, color="black"))

ann("Tibet vs. Temperate grassland", 365 / W, 1 - 21 / H, size=35)
ann("Tibet vs. Global", 902 / W, 1 - 21 / H, size=35)
ann("R<sub>s</sub> of mesic grassland", 136 / W, 1 - 80 / H, xanchor="left")
ann("(a)", 595 / W, 1 - 80 / H, xanchor="right")
ann("(b)", 1135 / W, 1 - 80 / H, xanchor="right")
ann("R<sub>s</sub> of meadow", 136 / W, 1 - 463 / H, xanchor="left")
ann("(c)", 595 / W, 1 - 463 / H, xanchor="right")
ann("(d)", 1135 / W, 1 - 463 / H, xanchor="right")
ann("Soil temperature at 5 cm depth (\u00b0C)", 634 / W, 1 - 843 / H, size=32)
ann("Standardized respiration: [R(T)/R(T<sub>c</sub>)]", 19 / W, 1 - 410 / H, size=30, angle=-90)

fig.write_html("out.html", config={"displayModeBar": False},
               post_script="document.body.style.margin='0px';document.body.style.padding='0px';")
